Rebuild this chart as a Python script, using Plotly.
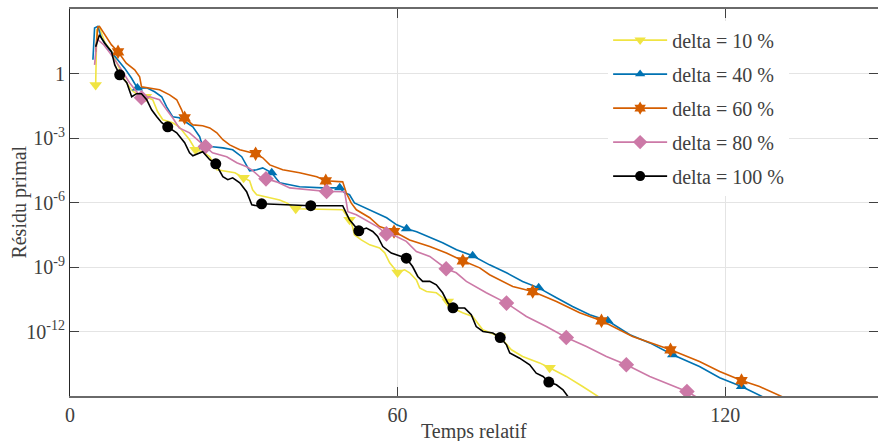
import plotly.graph_objects as go

# ---------------- data ----------------
x_10 = [4.7, 4.9, 5.4, 6.35, 7.65, 9.1, 10.0, 11.25, 12.75, 13.9, 15.15, 16.05, 17.0, 18.8, 20.0,
        21.9, 23.0, 24.3, 25.6, 26.9, 28.7, 30.2, 31.8, 32.9, 33.45, 34.2, 36.0, 38.4, 39.7, 41.35,
        49.95, 50.9, 51.2, 51.75, 52.1, 53.35, 54.9, 56.7, 57.65, 58.55, 60.0, 61.3, 62.2, 63.45,
        64.05, 65.3, 67.1, 68.25, 69.2, 70.75, 71.9, 73.75, 75.6, 78.7, 80.85, 82.9, 86.0, 87.85,
        90.9, 93.9, 96.65, 97.4]
y_10 = [0.295, 107, 135, 29.5, 10.2, 1.48, 0.513, 0.174, 8.32e-2, 8.32e-2, 6.03e-2, 1.66e-2, 7.08e-3,
        5.13e-3, 3.31e-3, 8.32e-4, 2.82e-4, 2.29e-4, 1.35e-4, 3.31e-5, 2.69e-5, 2.40e-5, 1.41e-5,
        1.02e-5, 3.89e-6, 2.29e-6, 1.82e-6, 1.32e-6, 9.55e-7, 5.13e-7, 4.57e-7, 1.95e-7, 1.58e-7,
        7.59e-8, 3.16e-8, 1.82e-8, 1.07e-8, 7.76e-9, 4.57e-9, 1.58e-9, 5.50e-10, 7.41e-10, 5.37e-10,
        2.51e-10, 1.07e-10, 7.24e-11, 6.31e-11, 3.72e-11, 2.51e-11, 1.02e-11, 7.41e-12, 5.01e-12,
        1.20e-12, 5.89e-13, 1.41e-13, 6.92e-14, 3.47e-14, 2.04e-14, 8.13e-15, 2.75e-15, 9.55e-16,
        7.41e-16]
mx_10 = [4.7, 13.9, 23.0, 31.8, 41.35, 51.2, 60.0, 69.2, 78.7, 87.85]
my_10 = [0.295, 8.32e-2, 2.82e-4, 1.41e-5, 5.13e-7, 1.58e-7, 5.50e-10, 2.51e-11, 5.89e-13, 2.04e-14]

x_40 = [4.2, 4.5, 5.1, 5.75, 7.0, 8.8, 10.0, 11.25, 12.35, 14.05, 15.5, 16.8, 17.7, 18.8, 20.0,
        21.4, 22.5, 23.75, 24.3, 26.1, 28.0, 29.8, 31.45, 32.9, 34.2, 35.3, 36.95, 38.4, 42.05,
        46.3, 49.4, 50.3, 51.2, 52.1, 53.6, 55.45, 58.0, 59.85, 61.65, 63.5, 65.9, 68.25, 70.8,
        73.75, 76.85, 79.95, 82.9, 85.85, 89.1, 92.05, 95.2, 98.5, 102.55, 106.2, 110.4, 115.3,
        119.0, 123.0, 126.9, 127.4]
y_40 = [4.37, 129, 155, 44.7, 15.1, 4.37, 1.78, 0.617, 0.209, 0.214, 0.141, 8.32e-2, 2.82e-2,
        9.77e-3, 8.71e-3, 5.13e-3, 3.31e-3, 1.15e-3, 3.89e-4, 3.89e-4, 3.47e-4, 2.82e-4, 1.35e-4,
        2.95e-5, 3.31e-5, 4.07e-5, 2.40e-5, 8.32e-6, 5.37e-6, 4.79e-6, 4.79e-6, 2.82e-6, 2.29e-6,
        9.55e-7, 6.31e-7, 3.72e-7, 1.95e-7, 9.12e-8, 6.03e-8, 4.37e-8, 2.51e-8, 1.35e-8, 6.31e-9,
        3.31e-9, 1.26e-9, 5.37e-10, 2.14e-10, 1.07e-10, 3.72e-11, 1.45e-11, 6.03e-12, 3.16e-12,
        7.08e-13, 2.95e-13, 8.32e-14, 2.34e-14, 7.08e-15, 2.75e-15, 9.12e-16, 7.41e-16]
mx_40 = [12.35, 24.65, 36.95, 49.4, 61.65, 73.75, 85.85, 98.5, 110.4, 123.0]
my_40 = [0.209, 3.89e-4, 2.40e-5, 4.79e-6, 6.03e-8, 3.31e-9, 1.07e-10, 3.16e-12, 8.32e-14, 2.75e-15]

x_60 = [4.7, 5.1, 5.4, 6.35, 7.6, 8.8, 10.3, 11.85, 12.75, 13.1, 14.6, 16.4, 18.25, 19.55, 20.45,
        21.0, 22.5, 24.3, 25.6, 26.9, 28.0, 29.25, 31.1, 32.35, 34.0, 35.3, 36.6, 38.95, 42.05,
        45.2, 46.85, 49.95, 50.6, 51.5, 52.45, 54.9, 56.7, 59.35, 62.2, 65.9, 68.95, 71.95, 75.05,
        76.85, 81.1, 84.75, 89.1, 93.35, 97.35, 103.05, 110.0, 115.3, 119.0, 123.0, 126.3, 130.5,
        131.3]
y_60 = [10.2, 148, 155, 63.1, 21.4, 10.2, 3.02, 1.48, 0.708, 0.240, 0.214, 0.174, 0.102, 6.03e-2,
        2.04e-2, 8.71e-3, 4.07e-3, 3.72e-3, 2.95e-3, 1.74e-3, 8.32e-4, 4.79e-4, 2.82e-4, 2.29e-4,
        1.86e-4, 1.20e-4, 5.62e-5, 3.31e-5, 2.40e-5, 1.58e-5, 1.02e-5, 9.12e-6, 2.82e-6, 9.55e-7,
        4.57e-7, 1.95e-7, 7.59e-8, 4.47e-8, 1.82e-8, 8.91e-9, 4.47e-9, 1.95e-9, 9.12e-10, 4.37e-10,
        1.23e-10, 7.24e-11, 2.51e-11, 7.41e-12, 3.16e-12, 5.89e-13, 1.41e-13, 3.98e-14, 1.38e-14,
        5.25e-15, 2.75e-15, 9.12e-16, 7.41e-16]
mx_60 = [8.8, 21.0, 34.0, 46.85, 59.35, 71.95, 84.75, 97.35, 110.0, 123.0]
my_60 = [10.2, 8.71e-3, 1.86e-4, 1.02e-5, 4.47e-8, 1.95e-9, 7.24e-11, 3.16e-12, 1.41e-13, 5.25e-15]

x_80 = [4.5, 4.9, 5.1, 6.2, 7.3, 9.1, 10.9, 13.1, 14.6, 16.4, 17.7, 18.8, 20.0, 21.9, 24.8, 26.1,
        28.7, 30.55, 32.35, 33.3, 34.75, 35.9, 37.85, 40.25, 43.9, 47.0, 50.3, 50.6, 50.9, 52.45,
        54.9, 56.35, 57.95, 59.8, 61.6, 63.45, 65.9, 68.9, 70.75, 72.6, 76.25, 79.95, 83.6, 87.25,
        90.9, 94.6, 98.25, 101.9, 106.2, 109.25, 113.0, 114.7, 115.3]
y_80 = [2.51, 29.5, 37.2, 21.4, 9.12, 2.04, 0.372, 7.41e-2, 8.32e-2, 6.03e-2, 2.04e-2, 8.71e-3,
        2.95e-3, 1.74e-3, 3.98e-4, 2.04e-4, 1.35e-4, 7.08e-5, 4.57e-5, 3.31e-5, 1.58e-5, 1.26e-5,
        9.12e-6, 4.79e-6, 3.89e-6, 3.24e-6, 3.16e-6, 9.55e-7, 3.72e-7, 2.69e-7, 1.26e-7, 7.41e-8,
        3.47e-8, 2.63e-8, 1.55e-8, 5.25e-9, 3.09e-9, 8.32e-10, 5.37e-10, 2.14e-10, 6.31e-11,
        2.09e-11, 5.01e-12, 1.70e-12, 5.25e-13, 2.0e-13, 6.92e-14, 2.82e-14, 8.13e-15, 3.98e-15,
        1.62e-15, 9.12e-16, 7.41e-16]
mx_80 = [13.1, 24.8, 35.9, 47.0, 57.95, 68.9, 79.95, 90.9, 101.9, 113.0]
my_80 = [7.41e-2, 3.98e-4, 1.26e-5, 3.24e-6, 3.47e-8, 8.32e-10, 2.09e-11, 5.25e-13, 2.82e-14, 1.62e-15]

x_100 = [4.7, 5.4, 6.35, 7.6, 8.2, 9.1, 10.4, 11.3, 12.2, 13.1, 14.05, 14.95, 15.9, 16.8, 17.9,
         19.55, 21.0, 21.9, 22.5, 24.3, 25.6, 26.7, 28.0, 28.9, 29.8, 31.1, 32.35, 33.3, 34.2, 35.1,
         44.1, 49.95, 51.2, 52.9, 54.3, 55.45, 56.35, 57.3, 58.85, 59.8, 61.6, 62.75, 63.7, 64.6,
         65.9, 67.1, 68.25, 69.2, 70.15, 72.3, 73.5, 74.4, 75.65, 77.45, 78.8, 79.95, 80.55, 82.35,
         84.2, 85.4, 86.65, 87.7, 89.1, 90.3, 91.2, 92.0]
y_100 = [17.4, 63.1, 25.7, 10.5, 2.51, 0.871, 0.372, 8.32e-2, 0.115, 0.115, 6.03e-2, 2.04e-2,
         9.77e-3, 5.13e-3, 3.31e-3, 1.74e-3, 6.03e-4, 2.04e-4, 1.48e-4, 2.29e-4, 9.77e-5, 6.31e-5,
         1.58e-5, 1.15e-5, 1.41e-5, 8.32e-6, 3.16e-6, 7.76e-7, 7.08e-7, 8.71e-7, 7.08e-7, 7.08e-7,
         1.58e-7, 4.79e-8, 6.46e-8, 4.47e-8, 2.63e-8, 8.91e-9, 4.47e-9, 3.72e-9, 2.57e-9, 1.05e-9,
         3.63e-10, 2.14e-10, 2.14e-10, 1.48e-10, 6.31e-11, 2.14e-11, 1.26e-11, 1.23e-11, 6.03e-12,
         1.70e-12, 1.0e-12, 8.51e-13, 5.25e-13, 2.40e-13, 1.0e-13, 5.75e-14, 2.82e-14, 1.15e-14,
         8.13e-15, 4.47e-15, 3.31e-15, 1.95e-15, 9.12e-16, 5.0e-16]
mx_100 = [9.1, 17.9, 26.7, 35.1, 44.1, 52.9, 61.6, 70.15, 78.8, 87.7]
my_100 = [0.871, 3.31e-3, 6.31e-5, 8.71e-7, 7.08e-7, 4.79e-8, 2.57e-9, 1.26e-11, 5.25e-13, 4.47e-15]

labels = ["delta = 10 %", "delta = 40 %", "delta = 60 %", "delta = 80 %", "delta = 100 %"]
x_ticks = [0, 60, 120]
y_ticks = [1, 1e-3, 1e-6, 1e-9, 1e-12]
y_ticktext = ["1", "10<sup>-3</sup>", "10<sup>-6</sup>", "10<sup>-9</sup>", "10<sup>-12</sup>"]
x_title = "Temps relatif"
y_title = "Résidu primal"

# ---------------- styling ----------------
colors = ["#F0E442", "#0072B2", "#D55E00", "#CC79A7", "#000000"]
symbols = ["triangle-down", "triangle-up", "hexagram", "diamond", "circle"]
msizes = [11, 10, 11, 12, 11]
FONT = "Liberation Serif, Times New Roman, DejaVu Serif, serif"
FS = 20
TXT = "#404040"

series = [(x_10, y_10, mx_10, my_10), (x_40, y_40, mx_40, my_40), (x_60, y_60, mx_60, my_60),
          (x_80, y_80, mx_80, my_80), (x_100, y_100, mx_100, my_100)]

fig = go.Figure()
for i, (xs, ys, mxs, mys) in enumerate(series):
    g = "g%d" % i
    fig.add_trace(go.Scatter(x=xs, y=ys, mode="lines", line=dict(color=colors[i], width=1.6),
                             showlegend=False, legendgroup=g, hoverinfo="skip"))
    fig.add_trace(go.Scatter(x=mxs, y=mys, mode="markers",
                             marker=dict(symbol=symbols[i], size=msizes[i], color=colors[i],
                                         line=dict(width=0)),
                             showlegend=False, legendgroup=g))
    fig.add_trace(go.Scatter(x=[None], y=[None], mode="lines+markers", name=labels[i],
                             line=dict(color=colors[i], width=1.6),
                             marker=dict(symbol=symbols[i], size=msizes[i] - 1, color=colors[i],
                                         line=dict(width=0)),
                             legendgroup=g))

fig.update_layout(
    width=878, height=441,
    margin=dict(l=70, r=0, t=9, b=45, autoexpand=False),
    paper_bgcolor="white", plot_bgcolor="white",
    font=dict(family=FONT, size=FS, color=TXT),
    showlegend=True,
    legend=dict(x=0.666, y=0.97, xanchor="left", yanchor="top",
                bgcolor="white", borderwidth=0, tracegroupgap=5,
                traceorder="grouped", itemwidth=54,
                font=dict(family=FONT, size=FS, color=TXT)),
    xaxis=dict(range=[0, 148], tickvals=x_ticks, ticktext=[str(v) for v in x_ticks],
               ticks="inside", ticklen=9, tickcolor="#404040", tickwidth=1,
               showline=True, linecolor="#6a6a6a", linewidth=2, mirror="ticks",
               showgrid=True, gridcolor="#e4e4e4", gridwidth=1, zeroline=False,
               automargin=False, tickfont=dict(family=FONT, size=FS, color=TXT)),
    yaxis=dict(type="log", range=[-15, 3], tickvals=y_ticks, ticktext=y_ticktext,
               ticks="inside", ticklen=9, tickcolor="#404040", tickwidth=1,
               showline=True, linecolor="#262626", linewidth=1, mirror="ticks",
               showgrid=True, gridcolor="#e4e4e4", gridwidth=1, zeroline=False,
               automargin=False, tickfont=dict(family=FONT, size=FS, color=TXT)),
    annotations=[
        dict(text=x_title, xref="paper", yref="paper", x=0.5, y=-0.093,
             xanchor="center", yanchor="middle", showarrow=False,
             font=dict(family=FONT, size=FS, color=TXT)),
        dict(text=y_title, xref="paper", yref="paper", x=-0.063, y=0.5, textangle=-90,
             xanchor="center", yanchor="middle", showarrow=False,
             font=dict(family=FONT, size=FS, color=TXT)),
    ],
)

# remove the page's default body margin so the figure fills the window exactly
fig.write_html("out.html", config={"displayModeBar": False},
               post_script="document.body.style.margin='0';document.body.style.overflow='hidden';")
